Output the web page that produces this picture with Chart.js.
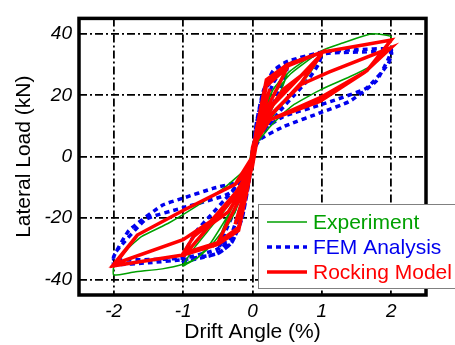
<html>
<head>
<title>Hysteresis loops</title>
<script src="https://cdn.jsdelivr.net/npm/chart.js@4.4.1/dist/chart.umd.min.js"></script>
<style>
  body { margin: 0; background: #fff; }
</style>
</head>
<body>
<canvas id="myChart" width="455" height="345"></canvas>
<script>
// tick labels
var xTicks = [-2, -1, 0, 1, 2];
var yTicks = [-40, -20, 0, 20, 40];

// Experiment (green)
var expX = [0, 0.1, 0.25, 0.4, 0.5, 0.4, 0.2, 0, -0.1, -0.25, -0.4, -0.5, -0.4, -0.2, 0,
  0.1, 0.3, 0.55, 0.8, 1.0, 0.85, 0.6, 0.35, 0.15, 0, -0.1, -0.3, -0.6, -0.8, -1.0, -0.85, -0.6, -0.35, -0.15, 0,
  0.1, 0.3, 0.55, 1.0, 1.3, 1.6, 1.75, 2.0, 1.85, 1.7, 1.4, 1.0, 0.6, 0.35, 0.15, 0,
  -0.1, -0.3, -0.6, -0.8, -1.0, -1.3, -1.7, -2.0, -2.0, -1.8, -1.6, -1.2, -0.8, -0.4, -0.1, 0];
var expY = [0, 10, 20, 25, 27, 21, 12, 3, -8, -18, -24, -28, -22, -12, -3,
  9, 22, 28, 32, 34, 28, 21, 15, 8, 2, -8, -20, -29, -33, -35.5, -30, -23, -16, -9, -2,
  8, 20, 27, 34.5, 37, 39.3, 40, 39, 33, 29.5, 26, 22, 17, 12, 7, 2,
  -6, -17, -28, -33, -35, -36.5, -37.5, -38.5, -36, -30, -26, -21.5, -16, -10, -4, 0];

// FEM Analysis (blue)
var femX = [0, 0.05, 0.15, 0.3, 0.5, 0.4, 0.25, 0.1, 0, -0.05, -0.15, -0.3, -0.5, -0.4, -0.25, -0.1, 0,
  0.05, 0.15, 0.3, 0.5, 0.75, 1.0, 0.95, 0.8, 0.6, 0.4, 0.2, 0, -0.05, -0.15, -0.3, -0.5, -0.75, -1.0, -0.95, -0.8, -0.6, -0.4, -0.2, 0,
  0.05, 0.15, 0.3, 0.5, 1.0, 1.5, 2.0, 1.95, 1.78, 1.4, 1.0, 0.45, 0.1, 0,
  -0.05, -0.15, -0.3, -0.5, -1.0, -1.5, -2.0, -2.0, -1.78, -1.3, -1.0, -0.57, -0.2, 0,
  0.05, 0.3, 0.5, 1.0, 2.0, 1.95, 1.64, 1.0, 0.43, 0.05,
  -0.05, -0.3, -0.5, -1.0, -2.0, -1.97, -1.53, -1.0, -0.33, 0];
var femY = [0, 10, 20, 26, 29, 22, 15, 8, 2, -8, -18, -26, -31, -25, -17, -8, -2,
  10, 21, 28, 30.5, 32.5, 34, 30, 25, 20, 15, 9, 2, -8, -20, -28, -31.5, -33, -34, -30, -24, -19, -14, -9, -2,
  10, 21, 28, 31, 34, 34.8, 35, 31.5, 24.5, 18, 14.5, 9.8, 5.5, 1,
  -8, -20, -28, -31.5, -33.5, -34.5, -35, -32.5, -24, -15.8, -13.5, -10.3, -8, -2,
  8, 24, 30, 33.5, 34, 30, 22.3, 17, 12.9, 6.6,
  -7, -25, -30, -33, -33.5, -31, -20.3, -16.6, -11.9, -2];

// Rocking Model (red)
var rockX = [0, 0.05, 0.25, 0.12, 0, -0.05, -0.25, -0.12, 0,
  0.05, 0.2, 0.5, 0.35, 0.1, 0, -0.05, -0.2, -0.5, -0.35, -0.1, 0,
  0.05, 0.2, 0.5, 1.0, 0.85, 0.45, 0.1, 0, -0.05, -0.2, -0.5, -1.0, -0.85, -0.5, -0.15, 0,
  0.05, 0.3, 0.6, 1.0, 0.7, 0.25, 0.05, -0.05, -0.35, -0.6, -1.0, -0.6, -0.25, 0,
  0.05, 0.2, 0.5, 1.0, 2.0, 1.65, 1.0, 0.25, 0.05, -0.05, -0.2, -0.5, -1.0, -2.0, -1.66, -1.0, -0.25, 0,
  0.1, 0.7, 1.1, 2.0, 1.62, 0.97, 0.25, 0.05, -0.1, -0.6, -1.0, -2.0, -1.66, -1.0, -0.25, 0];
var rockY = [0, 8, 22, 12, 3, -8, -22, -12, -3,
  8, 23, 29, 22, 11, 3, -8, -23, -28, -21, -10, -3,
  8, 24, 29.5, 34, 29, 22, 11, 3, -8, -24, -28, -31.5, -26, -19.5, -10, -3,
  7, 17, 24, 33.5, 24, 13, 5, -7, -18, -22, -32.5, -22, -12, -3,
  8, 25, 30, 34, 38, 28, 19.5, 12, 6, -8, -24, -28.5, -32, -35.5, -25.5, -17.5, -9, -3,
  10, 23.5, 27.5, 35.5, 27.5, 18, 12, 5, -8, -21, -27, -35, -25.5, -17.5, -9, 0];

function pts(xs, ys) {
  return xs.map(function (x, i) { return { x: x, y: ys[i] }; });
}

var FONT = "'Liberation Sans', Arial, sans-serif";

// thick black frame round the plot, drawn over the grid
var framePlugin = {
  id: 'frame',
  afterDatasetsDraw: function (chart) {
    var a = chart.chartArea, ctx = chart.ctx;
    ctx.save();
    ctx.strokeStyle = '#000';
    ctx.lineWidth = 3.5;
    ctx.strokeRect(a.left, a.top, a.right - a.left, a.bottom - a.top);
    ctx.restore();
  }
};

// legend box in the lower right corner, running past the plot edge
var legendPlugin = {
  id: 'boxLegend',
  afterDraw: function (chart) {
    var ctx = chart.ctx;
    ctx.save();
    ctx.fillStyle = '#fff';
    ctx.fillRect(258.5, 204.5, 200, 84);
    ctx.strokeStyle = '#808080';
    ctx.lineWidth = 1;
    ctx.strokeRect(258.5, 204.5, 200, 84);
    ctx.font = '21px ' + FONT;
    ctx.textBaseline = 'middle';
    chart.data.datasets.forEach(function (ds, i) {
      var y = 222 + i * 25;
      ctx.strokeStyle = ds.borderColor;
      ctx.lineWidth = ds.borderWidth;
      ctx.setLineDash(ds.borderDash || []);
      ctx.beginPath();
      ctx.moveTo(267, y);
      ctx.lineTo(307, y);
      ctx.stroke();
      ctx.setLineDash([]);
      ctx.fillStyle = ds.borderColor;
      ctx.fillText(ds.label, 313, y + 1);
    });
    ctx.restore();
  }
};

var ctx = document.getElementById('myChart').getContext('2d');
var myChart = new Chart(ctx, {
  type: 'scatter',
  data: {
    datasets: [{
      label: 'Experiment',
      data: pts(expX, expY),
      showLine: true,
      borderColor: '#00a000',
      borderWidth: 1.5,
      pointRadius: 0,
      tension: 0.15,
      order: 1
    }, {
      label: 'FEM Analysis',
      data: pts(femX, femY),
      showLine: true,
      borderColor: '#0000ee',
      borderWidth: 3.5,
      borderDash: [5, 4],
      pointRadius: 0,
      tension: 0.15,
      order: 2
    }, {
      label: 'Rocking Model',
      data: pts(rockX, rockY),
      showLine: true,
      borderColor: '#ff0000',
      borderWidth: 3.5,
      pointRadius: 0,
      tension: 0,
      order: 0
    }]
  },
  options: {
    responsive: false,
    animation: false,
    devicePixelRatio: 1,
    layout: { padding: { left: 0, top: 11.5, right: 29, bottom: 0 } },
    plugins: { legend: { display: false }, tooltip: { enabled: false } },
    scales: {
      x: {
        type: 'linear',
        min: -2.5,
        max: 2.5,
        afterBuildTicks: function (scale) { scale.ticks = xTicks.map(function (v) { return { value: v }; }); },
        afterFit: function (scale) { scale.height = 50; },
        grid: { color: '#000', lineWidth: 1.8, drawTicks: false },
        border: { display: false, dash: [8, 3, 2, 3] },
        ticks: { color: '#000', padding: 5, font: { family: FONT, size: 19, style: 'italic' } },
        title: { display: true, text: 'Drift Angle (%)', color: '#000', padding: { top: 0, bottom: 0 }, font: { family: FONT, size: 21 } }
      },
      y: {
        type: 'linear',
        min: -45,
        max: 45,
        afterBuildTicks: function (scale) { scale.ticks = yTicks.map(function (v) { return { value: v }; }); },
        afterFit: function (scale) { scale.width = 79; },
        grid: { color: '#000', lineWidth: 1.8, drawTicks: false },
        border: { display: false, dash: [8, 3, 2, 3] },
        ticks: { color: '#000', padding: 7, font: { family: FONT, size: 19, style: 'italic' } },
        title: { display: true, text: 'Lateral Load (kN)', color: '#000', padding: { top: 12, bottom: 0 }, font: { family: FONT, size: 21 } }
      }
    }
  },
  plugins: [framePlugin, legendPlugin]
});
</script>
</body>
</html>
